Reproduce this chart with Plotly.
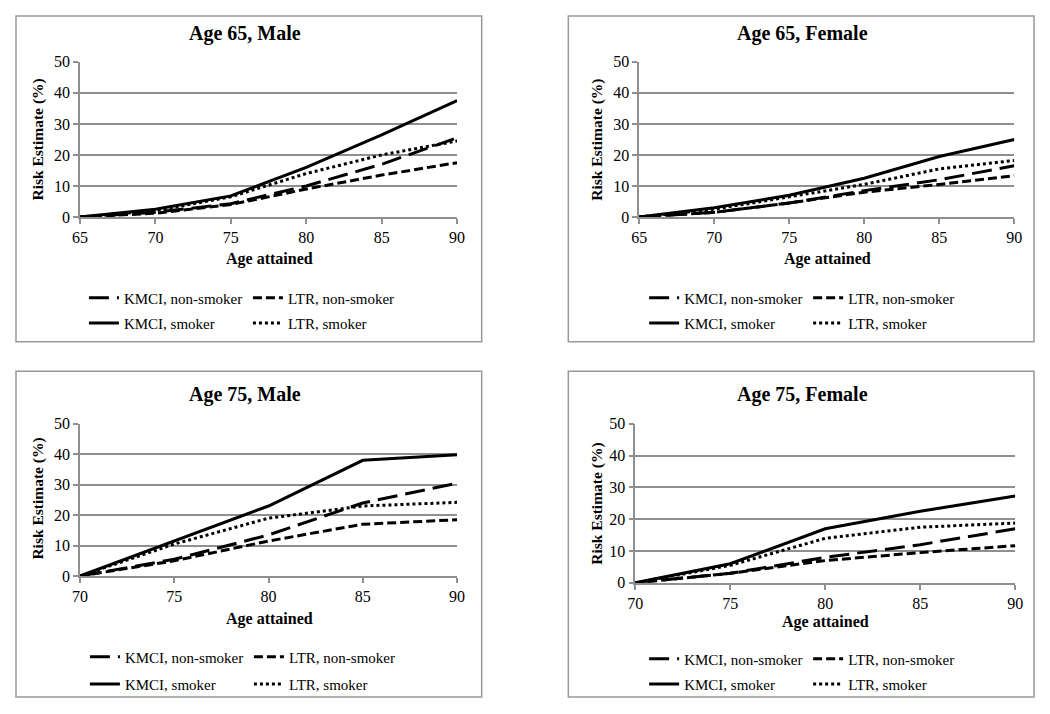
import plotly.graph_objects as go

# The page body keeps its default 8px margin, so the figure is drawn 16px
# smaller and every reference pixel position is shifted by that margin.
PAGE_W, PAGE_H = 1050, 714
MARGIN = 8
W, H = PAGE_W - 2 * MARGIN, PAGE_H - 2 * MARGIN

# ---------------- data ----------------
ages_65 = [65, 70, 75, 80, 85, 90]
ages_75 = [70, 75, 80, 85, 90]

m65_kmci_non = [0, 1.5, 4.3, 10.0, 17.0, 25.5]
m65_ltr_non = [0, 1.2, 4.0, 9.0, 13.5, 17.5]
m65_kmci_smk = [0, 2.5, 6.8, 16.0, 26.5, 37.5]
m65_ltr_smk = [0, 2.0, 6.5, 14.0, 20.0, 24.5]

f65_kmci_non = [0, 1.5, 4.5, 8.5, 12.0, 16.5]
f65_ltr_non = [0, 1.5, 4.5, 8.0, 10.5, 13.3]
f65_kmci_smk = [0, 3.0, 7.0, 12.5, 19.5, 25.0]
f65_ltr_smk = [0, 2.5, 6.5, 10.5, 15.5, 18.2]

m75_kmci_non = [0, 5.5, 13.5, 24.0, 30.5]
m75_ltr_non = [0, 5.0, 11.5, 17.0, 18.5]
m75_kmci_smk = [0, 11.5, 23.0, 38.0, 39.8]
m75_ltr_smk = [0, 10.5, 19.0, 23.0, 24.2]

f75_kmci_non = [0, 3.0, 8.0, 12.0, 17.0]
f75_ltr_non = [0, 3.0, 7.0, 9.5, 11.7]
f75_kmci_smk = [0, 6.0, 17.0, 22.5, 27.3]
f75_ltr_smk = [0, 5.5, 14.0, 17.5, 18.8]

series_names = ["KMCI, non-smoker", "LTR, non-smoker", "KMCI, smoker", "LTR, smoker"]
panel_titles = ["Age 65, Male", "Age 65, Female", "Age 75, Male", "Age 75, Female"]
y_ticks = [0, 10, 20, 30, 40, 50]
x_ticks_65 = [65, 70, 75, 80, 85, 90]
x_ticks_75 = [70, 75, 80, 85, 90]

# ---------------- styling ----------------
FONT = "Liberation Serif"
GRAY = "#8f8f8f"
dashes = ["20px,8px", "9px,4px", "solid", "3px,3px"]
LW = 3


def px(x):
    return min(max((x - MARGIN) / W, 0.0), 1.0)


def py(y):
    return min(max(1 - (y - MARGIN) / H, 0.0), 1.0)


panels = [
    dict(x=ages_65, ys=[m65_kmci_non, m65_ltr_non, m65_kmci_smk, m65_ltr_smk], xt=x_ticks_65,
         box=(1, 1, 481, 342), plot=(73, 456, 55, 214), title=(241, 26), xtitle=(265, 257),
         ytitle=(30, 135), leg=(77, 297, 323)),
    dict(x=ages_65, ys=[f65_kmci_non, f65_ltr_non, f65_kmci_smk, f65_ltr_smk], xt=x_ticks_65,
         box=(569, 1, 1048, 342), plot=(641, 1022, 55, 214), title=(807, 26), xtitle=(832, 257),
         ytitle=(598, 135), leg=(646, 297, 323)),
    dict(x=ages_75, ys=[m75_kmci_non, m75_ltr_non, m75_kmci_smk, m75_ltr_smk], xt=x_ticks_75,
         box=(1, 372, 481, 712), plot=(73, 456, 426, 582), title=(241, 396), xtitle=(265, 626),
         ytitle=(30, 503), leg=(78, 665, 693)),
    dict(x=ages_75, ys=[f75_kmci_non, f75_ltr_non, f75_kmci_smk, f75_ltr_smk], xt=x_ticks_75,
         box=(569, 372, 1048, 712), plot=(637, 1023, 426, 589), title=(807, 396), xtitle=(830, 629),
         ytitle=(598, 508), leg=(646, 667, 693)),
]

fig = go.Figure()
layout = dict(
    width=W, height=H, margin=dict(l=0, r=0, t=0, b=0),
    paper_bgcolor="white", plot_bgcolor="white",
    font=dict(family=FONT, color="black"),
    shapes=[], annotations=[],
)

for i, p in enumerate(panels):
    n = i + 1
    xa = "x" if n == 1 else f"x{n}"
    ya = "y" if n == 1 else f"y{n}"
    l1 = f"legend{2 * i + 1}" if i > 0 else "legend"
    l2 = f"legend{2 * i + 2}"
    for k in range(4):
        fig.add_trace(go.Scatter(
            x=p["x"], y=p["ys"][k], mode="lines", name=series_names[k],
            line=dict(color="black", width=LW, dash=dashes[k]),
            xaxis=xa, yaxis=ya,
            legend=l1 if k < 2 else l2,
        ))
    x0, x1, y0, y1 = p["plot"]
    xkey = "xaxis" if n == 1 else f"xaxis{n}"
    ykey = "yaxis" if n == 1 else f"yaxis{n}"
    layout[xkey] = dict(
        domain=[px(x0), px(x1)], range=[p["x"][0], p["x"][-1]], anchor=ya,
        tickvals=p["xt"], showgrid=False, zeroline=False,
        showline=True, linecolor=GRAY, linewidth=1.5,
        ticks="outside", ticklen=5, tickcolor=GRAY, tickwidth=1.5,
        tickfont=dict(size=16, family=FONT, color="black"),
    )
    layout[ykey] = dict(
        domain=[py(y1), py(y0)], range=[0, 50], anchor=xa,
        tickvals=y_ticks, showgrid=True, gridcolor=GRAY, gridwidth=1.5,
        zeroline=False, showline=True, linecolor=GRAY, linewidth=1.5,
        ticks="outside", ticklen=5, tickcolor=GRAY, tickwidth=1.5,
        tickfont=dict(size=16, family=FONT, color="black"),
    )
    bx0, by0, bx1, by1 = p["box"]
    layout["shapes"].append(dict(
        type="rect", xref="paper", yref="paper",
        x0=px(bx0), x1=px(bx1), y0=py(by1), y1=py(by0),
        line=dict(color="#999999", width=1.5), fillcolor="rgba(0,0,0,0)", layer="below",
    ))
    tx, ty = p["title"]
    layout["annotations"].append(dict(
        text="<b>" + panel_titles[i] + "</b>", xref="paper", yref="paper",
        x=px(tx), y=py(ty), xanchor="center", yanchor="middle", showarrow=False,
        font=dict(size=20, family=FONT, color="black"),
    ))
    ax, ay = p["xtitle"]
    layout["annotations"].append(dict(
        text="<b>Age attained</b>", xref="paper", yref="paper",
        x=px(ax), y=py(ay), xanchor="center", yanchor="middle", showarrow=False,
        font=dict(size=16, family=FONT, color="black"),
    ))
    yx, yy = p["ytitle"]
    layout["annotations"].append(dict(
        text="<b>Risk Estimate (%)</b>", xref="paper", yref="paper",
        x=px(yx), y=py(yy), xanchor="center", yanchor="middle", showarrow=False,
        textangle=-90, font=dict(size=15.5, family=FONT, color="black"),
    ))
    lx, r1, r2 = p["leg"]
    for key, ry in ((l1, r1), (l2, r2)):
        layout[key] = dict(
            orientation="h", x=px(lx), y=py(ry), xanchor="left", yanchor="middle",
            entrywidth=119, entrywidthmode="pixels", bgcolor="rgba(0,0,0,0)",
            font=dict(size=15, family=FONT, color="black"), itemclick=False,
        )

fig.update_layout(**layout)
fig.write_html("out.html", config={"displayModeBar": False})
